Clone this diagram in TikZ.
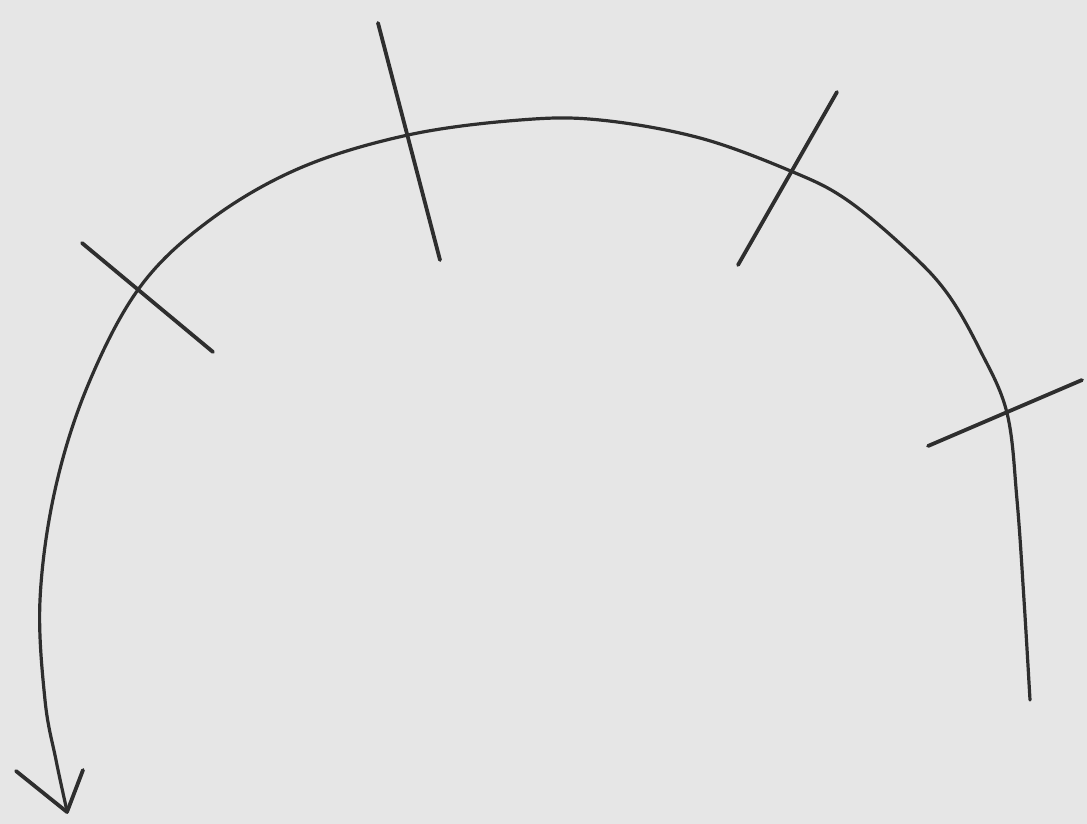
\documentclass[tikz,border=0pt]{standalone}
\usetikzlibrary{arrows.meta}
\definecolor{bg}{HTML}{E6E6E6}
\definecolor{ink}{HTML}{2E2E2E}
\begin{document}
\begin{tikzpicture}[x=1pt,y=-1pt,
  stroke/.style={draw=ink,line width=3.2pt,line cap=round,line join=round},
  tick/.style={stroke,line width=3.8pt}]
\fill[bg] (0,0) rectangle (1087,824);
\useasboundingbox (0,0) rectangle (1087,824);
% arc
\draw[stroke] plot[smooth,tension=0.6] coordinates {
 (1030,700) (1024,600) (1017,500) (1007,413) (980,350) (947,293) (907,250)
 (847,200) (793,172) (700,138) (600,120) (520,120) (408,135) (300,168) (210,220)
 (140,287) (88,385) (55,490) (40,600) (45,700) (56,760) (67,811)};
% arrowhead
\coordinate (tip) at (67,812);
\coordinate (al) at (16,771);
\coordinate (ar) at (83,770);
\draw[tick] (al) -- (tip) -- (ar);
% ticks
\coordinate (t1a) at (82,243);  \coordinate (t1b) at (213,352);
\coordinate (t2a) at (378,23);  \coordinate (t2b) at (440,260);
\coordinate (t3a) at (837,92);  \coordinate (t3b) at (738,265);
\coordinate (t4a) at (928,446); \coordinate (t4b) at (1082,380);
\draw[tick] (t1a) -- (t1b);
\draw[tick] (t2a) -- (t2b);
\draw[tick] (t3a) -- (t3b);
\draw[tick] (t4a) -- (t4b);
\end{tikzpicture}
\end{document}
